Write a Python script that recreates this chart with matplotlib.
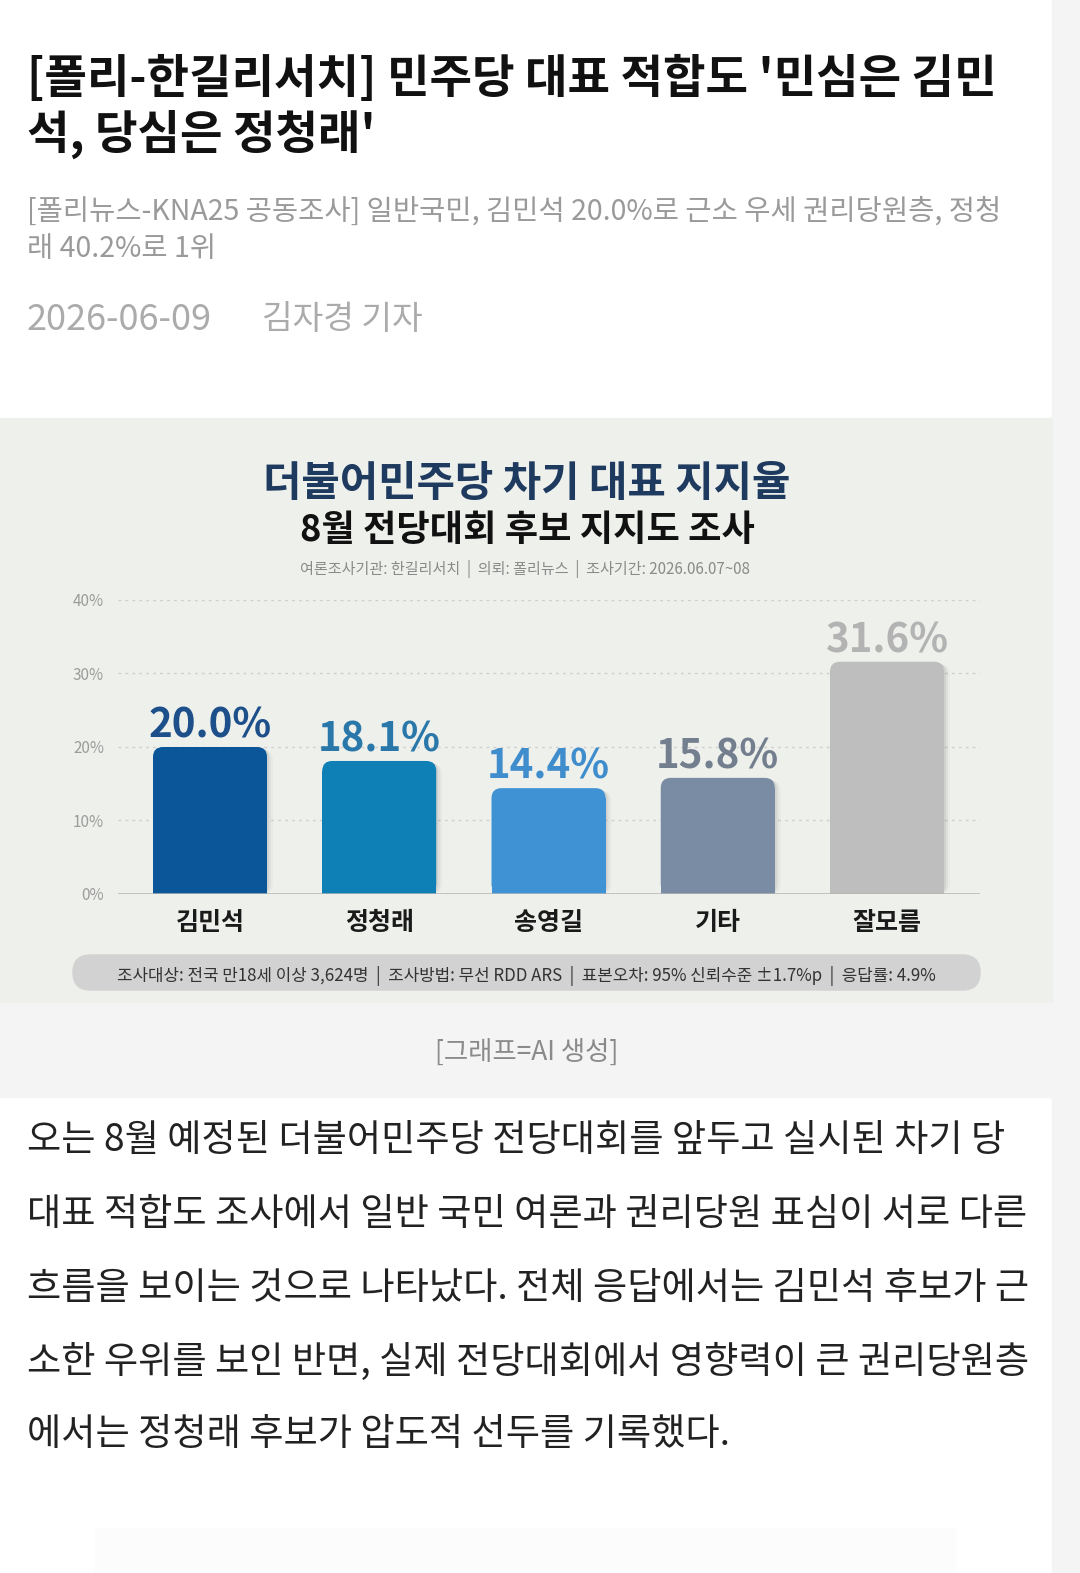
import matplotlib
matplotlib.use("Agg")
import matplotlib.pyplot as plt
from matplotlib.patches import Rectangle, FancyBboxPatch

plt.rcParams['font.family'] = ['Noto Sans CJK KR', 'DejaVu Sans']

# ---------------- data ----------------
categories = ['김민석', '정청래', '송영길', '기타', '잘모름']
values = [20.0, 18.1, 14.4, 15.8, 31.6]
value_labels = ['20.0%', '18.1%', '14.4%', '15.8%', '31.6%']
yticks = [0, 10, 20, 30, 40]
ytick_labels = ['0%', '10%', '20%', '30%', '40%']

bar_colors = ['#0b5599', '#0e80b5', '#3f93d4', '#7a8ca3', '#bebebe']
label_colors = ['#1d4f8a', '#2a78aa', '#3f8dcc', '#737f8e', '#b3b3b3']

headline = ["[폴리-한길리서치] 민주당 대표 적합도 '민심은 김민", "석, 당심은 정청래'"]
subhead = ["[폴리뉴스-KNA25 공동조사] 일반국민, 김민석 20.0%로 근소 우세 권리당원층, 정청",
           "래 40.2%로 1위"]
date_str = "2026-06-09"
reporter = "김자경 기자"
chart_title = "더불어민주당 차기 대표 지지율"
chart_sub = "8월 전당대회 후보 지지도 조사"
chart_info = "여론조사기관: 한길리서치  |  의뢰: 폴리뉴스  |  조사기간: 2026.06.07~08"
chart_foot = "조사대상: 전국 만18세 이상 3,624명  |  조사방법: 무선 RDD ARS  |  표본오차: 95% 신뢰수준 ±1.7%p  |  응답률: 4.9%"
caption = "[그래프=AI 생성]"
body = ["오는 8월 예정된 더불어민주당 전당대회를 앞두고 실시된 차기 당",
        "대표 적합도 조사에서 일반 국민 여론과 권리당원 표심이 서로 다른",
        "흐름을 보이는 것으로 나타났다. 전체 응답에서는 김민석 후보가 근",
        "소한 우위를 보인 반면, 실제 전당대회에서 영향력이 큰 권리당원층",
        "에서는 정청래 후보가 압도적 선두를 기록했다."]

W, H = 1080, 1573
fig = plt.figure(figsize=(W / 100, H / 100), dpi=100)
fig.patch.set_facecolor('white')

page = fig.add_axes([0, 0, 1, 1])
page.set_xlim(0, W)
page.set_ylim(H, 0)
page.axis('off')

# backgrounds
page.add_patch(Rectangle((1052, 0), 28, H, color='#f4f4f4', zorder=0))
page.add_patch(Rectangle((0, 418), 1052, 585, color='#eef0ec', zorder=0))
page.add_patch(Rectangle((0, 1003), 1052, 94, color='#f4f4f4', zorder=0))
page.add_patch(Rectangle((95, 1528), 860, 45, color='#fcfcfc', zorder=0))

renderer = fig.canvas.get_renderer()


def fit_size(strings, width, weight='normal', base=20):
    """font size so that the widest string spans `width` pixels"""
    best = 0
    for s in strings:
        t = page.text(0, 0, s, fontsize=base, fontweight=weight)
        bb = t.get_window_extent(renderer)
        best = max(best, bb.width)
        t.remove()
    return base * width / best


# headline
fs = fit_size([headline[0]], 968, 'heavy')
for s, y in zip(headline, [79, 134]):
    page.text(27, y, s, fontsize=fs, fontweight='heavy', color='#111111', va='center', ha='left')

fs = fit_size([subhead[0]], 973)
for s, y in zip(subhead, [212, 249]):
    page.text(27, y, s, fontsize=fs, color='#9a9a9a', va='center', ha='left')

page.text(27, 320, date_str, fontsize=26, color='#ababab', va='center', ha='left')
page.text(262, 320, reporter, fontsize=24, color='#ababab', va='center', ha='left')

# chart header texts
page.text(527, 484, chart_title, fontsize=fit_size([chart_title], 527, 'heavy'),
          fontweight='heavy', color='#1e3a5f', va='center', ha='center')
page.text(527, 531, chart_sub, fontsize=fit_size([chart_sub], 453, 'heavy'),
          fontweight='heavy', color='#111111', va='center', ha='center')
page.text(525, 569, chart_info, fontsize=fit_size([chart_info], 450),
          color='#8a8a8a', va='center', ha='center')

# footer pill
page.add_patch(FancyBboxPatch((73, 955), 907, 35,
                              boxstyle="round,pad=0,rounding_size=17.5",
                              color='#d2d2d2', zorder=1))
page.text(526, 976, chart_foot, fontsize=fit_size([chart_foot], 818),
          color='#333333', va='center', ha='center', zorder=2)

# caption
page.text(527, 1053, caption, fontsize=19, color='#8a8a8a', va='center', ha='center')

# body
fs = fit_size(body[:4], 1000)
for s, y in zip(body, [1140, 1214, 1288, 1362, 1435]):
    page.text(27, y, s, fontsize=fs, color='#222222', va='center', ha='left')

# ---------------- bar chart ----------------
px_left, px_right, px_top, px_bot = 118, 980, 600, 894
ax = fig.add_axes([px_left / W, 1 - px_bot / H, (px_right - px_left) / W, (px_bot - px_top) / H])
ax.set_facecolor('none')
spacing = 169.25
ax.set_xlim(-(210 - px_left) / spacing, 4 + (px_right - 887) / spacing)
ax.set_ylim(0, 40)
for sp in ax.spines.values():
    sp.set_visible(False)

xs = list(range(len(categories)))
bw = 114 / spacing
px_per_y = (px_bot - px_top) / 40.0
aspect = spacing / px_per_y
r_x = 10 / spacing
r_y = r_x * aspect

bars = ax.bar(xs, values, width=bw, color=bar_colors, zorder=3)
for b, c in zip(bars, bar_colors):
    x0, w, h = b.get_x(), b.get_width(), b.get_height()
    b.set_height(h - r_y)
    # soft shadow
    for k, a in [(2, 0.06), (4, 0.04), (6, 0.025)]:
        ax.add_patch(FancyBboxPatch((x0 + k / spacing, 0), w, h - k / 2 / px_per_y,
                                    boxstyle=f"round,pad=0,rounding_size={r_x}",
                                    mutation_aspect=aspect, color='#000000', alpha=a,
                                    lw=0, zorder=2))
    ax.add_patch(FancyBboxPatch((x0, 0), w, h,
                                boxstyle=f"round,pad=0,rounding_size={r_x}",
                                mutation_aspect=aspect, color=c, lw=0, zorder=3))

for x, v, lab, c in zip(xs, values, value_labels, label_colors):
    ax.annotate(lab, (x, v), xytext=(0, 7), textcoords='offset points',
                ha='center', va='baseline', fontsize=29, fontweight='heavy',
                color=c, zorder=4, annotation_clip=False)

ax.set_yticks(yticks)
ax.set_yticklabels(ytick_labels, color='#9c9c9c', fontsize=11)
ax.set_xticks(xs)
ax.set_xticklabels(categories, fontsize=18, fontweight='heavy', color='#1a1a1a')
ax.tick_params(axis='both', length=0)
ax.tick_params(axis='y', pad=10)
ax.tick_params(axis='x', pad=12)
ax.yaxis.grid(True, linestyle=(0, (2, 3)), color='#cfcfcf', lw=1, zorder=0)
ax.set_axisbelow(True)
ax.axhline(0, color='#b5b5b5', lw=1.8, zorder=4)

fig.savefig('out.png', dpi=100, facecolor='white')
